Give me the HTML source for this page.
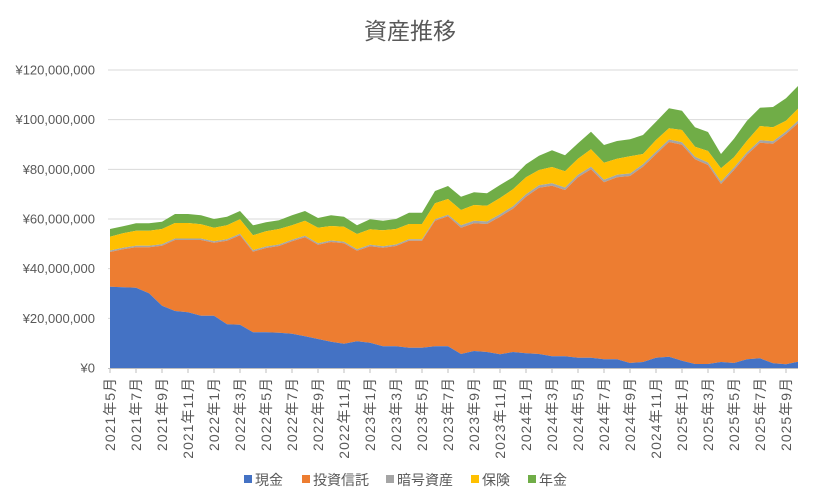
<!DOCTYPE html>
<html><head><meta charset="utf-8"><style>
body{margin:0;background:#fff;}
svg{display:block;font-family:"Liberation Sans","Noto Sans CJK JP",sans-serif;}
</style></head><body>
<svg id="c" width="817" height="504" xmlns="http://www.w3.org/2000/svg">
<rect width="817" height="504" fill="#fff"/>
<text x="410" y="39" text-anchor="middle" font-size="23" fill="#595959">資産推移</text>
<g id="grid"></g>
<g id="areas"></g>
<g id="axis"></g>
<g font-size="14" fill="#595959">
<rect x="244" y="475" width="8" height="8" fill="#4472C4"/><text x="255" y="485">現金</text>
<rect x="302" y="475" width="8" height="8" fill="#ED7D31"/><text x="313" y="485">投資信託</text>
<rect x="386" y="475" width="8" height="8" fill="#A5A5A5"/><text x="397" y="485">暗号資産</text>
<rect x="471" y="475" width="8" height="8" fill="#FFC000"/><text x="482" y="485">保険</text>
<rect x="528" y="475" width="8" height="8" fill="#70AD47"/><text x="539" y="485">年金</text>
</g>
</svg>
<script>
var NS="http://www.w3.org/2000/svg";
function el(p,t,a,txt){var e=document.createElementNS(NS,t);for(var k in a)e.setAttribute(k,a[k]);if(txt!==undefined)e.textContent=txt;p.appendChild(e);return e;}
var blue=[286.7,287.3,287.7,293.3,305.7,311,312.3,315.7,315.7,324.3,324.7,332.3,332.3,332.7,333.7,336.3,339,341.7,343.7,341.3,342.7,346.3,346.3,347.7,347.7,346.3,346.3,354,351,352,354.3,352,353.3,354,356.3,356.3,357.7,357.7,359.3,359.3,363,362,357.7,356.7,360.7,364,364,362,363,359.3,358.3,363.3,364.3,361.7];
var orange=[252,249.3,247.3,247.3,245.7,240,240,240,242.7,240.7,235.3,251.7,248,246,241.3,237.3,244.7,242,243.3,250.7,246.3,247.7,246,240.7,240.7,220.7,216.3,227.7,223.3,224,216.7,208.7,196.7,187.7,185.7,190,177.3,169.3,182.3,177.3,176,166.7,154.3,142,144.7,159.3,165,184,170,154.7,142.7,143.7,134,123.3];
var yellow=[236.7,233.3,230.7,230.7,229,223,223,224.3,227.7,225.3,219.3,235.3,231.3,229,225.3,220.7,227.7,226,226.7,234,229.3,230.3,229,224,224,203.3,199,210,205,205.7,198,189.3,177.3,170,167,171.3,158.7,149.3,162.7,158.7,156.3,154,140,128.3,130,146.7,151,168.3,157.3,140.7,126,127.3,120.7,108.7];
var green=[229,226.3,223.3,223.3,221.7,214,214,215.3,219,216.7,211,225.3,222.3,220.3,215.3,211,218,215.3,216.7,225.3,219.3,220.7,219,212.7,212.7,191,186,196.7,192.3,193.3,185,177.3,164.3,155.7,150.3,155.3,143.3,131.7,145,141,139.3,135,121.7,108.3,110.7,127.3,132,154,138.7,120.7,107.7,107,98.3,86];
var n=54,X=function(i){return Math.min(110+13*i,798);};
var gray=orange.map(function(v,i){return v-(i<27?1.5:2.5);});
var g=document.getElementById('grid');
var labs=["¥0","¥20,000,000","¥40,000,000","¥60,000,000","¥80,000,000","¥100,000,000","¥120,000,000"];
for(var k=0;k<7;k++){var y=368-k*49.67;if(k>0)el(g,'line',{x1:108,x2:798,y1:y,y2:y,stroke:'#d9d9d9','stroke-width':1});
el(g,'text',{x:95,y:y+4.5,'text-anchor':'end','font-size':13,fill:'#595959'},labs[k]);}
var a=document.getElementById('areas');
function area(top,bot,col){var d='M'+X(0)+','+top[0];for(var i=1;i<n;i++)d+='L'+X(i)+','+top[i];
for(var i=n-1;i>=0;i--)d+='L'+X(i)+','+(bot?bot[i]:368);el(a,'path',{d:d+'Z',fill:col});}
area(green,yellow,'#70AD47');area(yellow,gray,'#FFC000');area(gray,orange,'#A5A5A5');area(orange,blue,'#ED7D31');area(blue,null,'#4472C4');
var ax=document.getElementById('axis');
el(ax,'line',{x1:108,x2:798,y1:368.5,y2:368.5,stroke:'#bfbfbf'});
for(var i=0;i<n;i+=2){var x=X(i);el(ax,'line',{x1:x,x2:x,y1:368,y2:373,stroke:'#bfbfbf'});
var m=5+i,yr=2021+Math.floor((m-1)/12),mo=((m-1)%12)+1;
el(ax,'text',{x:x+5,y:377,'text-anchor':'end','font-size':14,'letter-spacing':'1',fill:'#595959',transform:'rotate(-90 '+(x+5)+' 377)'},yr+'年'+mo+'月');}
</script>
</body></html>
